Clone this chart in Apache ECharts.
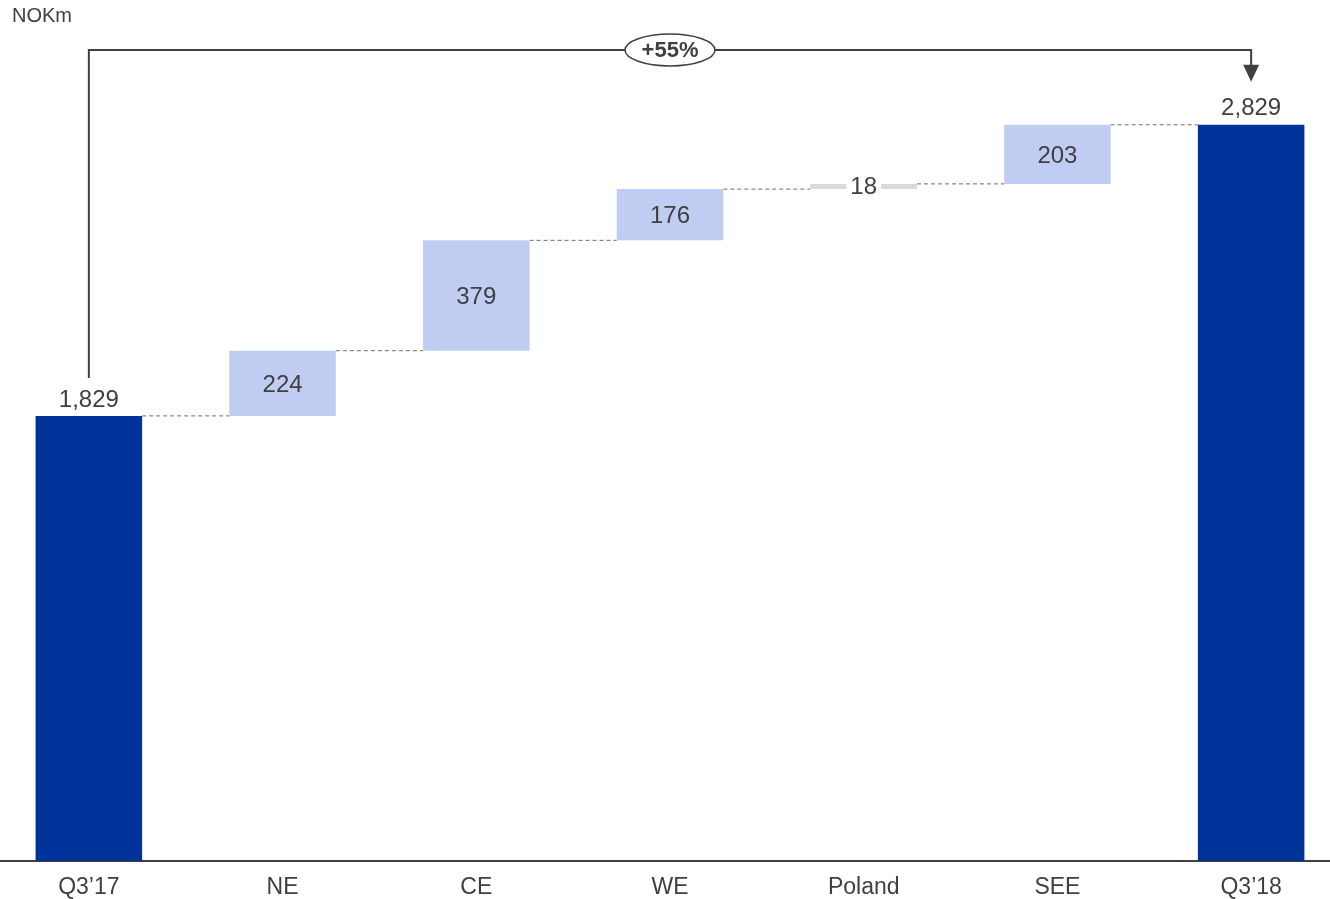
<!DOCTYPE html>
<html>
<head>
<meta charset="utf-8">
<script src="https://cdn.jsdelivr.net/npm/echarts@6/dist/echarts.min.js"></script>
<style>
  html, body { margin: 0; padding: 0; background: #fff; overflow: hidden; }
  /* 画布比窗口略宽，让首尾两根柱子贴近边缘 */
  #chart { position: absolute; left: -8px; top: 0; width: 1356px; height: 899px; }
</style>
</head>
<body>
<div id="chart"></div>
<script>
  // data
  const categories = ['Q3’17', 'NE', 'CE', 'WE', 'Poland', 'SEE', 'Q3’18']
  const values = [1829, 224, 379, 176, 18, 203, 2829]
  const kinds = ['total', 'up', 'up', 'up', 'small', 'up', 'total']
  const changeLabel = '+55%'
  const unitLabel = 'NOKm'

  const FONT = '"Liberation Sans", Arial, sans-serif'
  const TEXT = '#404040'
  const colors = { total: '#003399', up: '#c0ccf2', small: '#d9d9d9' }

  // running totals -> invisible base for each step
  const bases = []
  const levels = []
  let run = 0
  values.forEach((v, i) => {
    if (kinds[i] === 'total') {
      bases.push(0)
      run = v
    } else {
      bases.push(run)
      run += v
    }
    levels.push(run)
  })

  const chart = echarts.init(document.getElementById('chart'))

  const option = {
    animation: false,
    textStyle: { fontFamily: FONT },
    title: {
      text: unitLabel,
      left: 20,
      top: 6,
      padding: 0,
      textStyle: { fontSize: 20, fontWeight: 'normal', color: TEXT, fontFamily: FONT }
    },
    grid: { left: 0, right: 0, top: 75, bottom: 38 },
    xAxis: {
      type: 'category',
      data: categories,
      axisLine: { onZero: false, lineStyle: { color: TEXT, width: 2 } },
      axisTick: { show: false },
      axisLabel: { color: TEXT, fontSize: 23, margin: 15, fontFamily: FONT }
    },
    yAxis: {
      type: 'value',
      min: 300,
      max: 3000,
      show: false,
      splitLine: { show: false }
    },
    series: [
      // 透明底座
      {
        type: 'bar',
        stack: 'wf',
        barWidth: '55%',
        silent: true,
        itemStyle: { color: 'rgba(0,0,0,0)' },
        data: bases
      },
      // 可见柱
      {
        type: 'bar',
        stack: 'wf',
        barWidth: '55%',
        data: values.map((v, i) => ({
          value: v,
          itemStyle: { color: colors[kinds[i]] },
          label: kinds[i] === 'total'
            ? { position: 'top', distance: 4 }
            : kinds[i] === 'small'
              ? { position: 'inside', offset: [0, 1], backgroundColor: '#fff', padding: [0, 4] }
              : { position: 'inside', offset: [0, 2] }
        })),
        label: {
          show: true,
          color: TEXT,
          fontSize: 24,
          fontFamily: FONT,
          formatter: p => p.value.toLocaleString('en-US')
        }
      },
      // 虚线连接
      {
        type: 'custom',
        silent: true,
        z: 1,
        data: levels.slice(0, -1).map((lv, i) => [i, lv]),
        renderItem: (params, api) => {
          const i = api.value(0)
          const lv = api.value(1)
          const half = api.size([1, 0])[0] * 0.275
          const a = api.coord([i, lv])
          const b = api.coord([i + 1, lv])
          return {
            type: 'line',
            shape: { x1: a[0] + half, y1: a[1], x2: b[0] - half, y2: b[1] },
            style: { stroke: '#6f6f6f', lineWidth: 1, lineDash: [4, 3] }
          }
        }
      },
      // 增长箭头
      {
        type: 'custom',
        silent: true,
        z: 5,
        data: [[0, values[0]]],
        renderItem: (params, api) => {
          const last = values.length - 1
          const s = api.coord([0, values[0]])
          const e = api.coord([last, values[last]])
          const topY = api.coord([0, 3000])[1] - 25
          const mid = (s[0] + e[0]) / 2
          return {
            type: 'group',
            children: [
              {
                type: 'polyline',
                shape: { points: [[s[0], s[1] - 38], [s[0], topY], [e[0], topY], [e[0], e[1] - 58]] },
                style: { stroke: TEXT, lineWidth: 2, fill: null }
              },
              {
                type: 'polygon',
                shape: { points: [[e[0] - 8, e[1] - 60], [e[0] + 8, e[1] - 60], [e[0], e[1] - 43]] },
                style: { fill: TEXT }
              },
              {
                type: 'ellipse',
                shape: { cx: mid, cy: topY, rx: 45, ry: 16 },
                style: { fill: '#fff', stroke: TEXT, lineWidth: 1.5 }
              },
              {
                type: 'text',
                style: {
                  text: changeLabel,
                  x: mid,
                  y: topY + 1,
                  align: 'center',
                  verticalAlign: 'middle',
                  font: 'bold 22px ' + FONT,
                  fill: TEXT
                }
              }
            ]
          }
        }
      }
    ]
  }

  chart.setOption(option)
</script>
</body>
</html>
